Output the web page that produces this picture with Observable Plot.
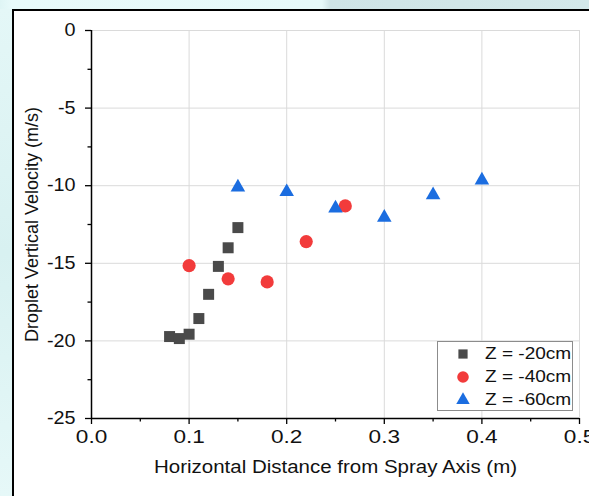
<!DOCTYPE html>
<html>
<head>
<meta charset="utf-8">
<script src="https://cdn.jsdelivr.net/npm/d3@7"></script>
<script src="https://cdn.jsdelivr.net/npm/@observablehq/plot@0.6"></script>
<style>
  html, body { margin: 0; padding: 0; }
  body {
    width: 589px; height: 496px; overflow: hidden; position: relative;
    background: linear-gradient(90deg, #dff5f5 0px, #e8fafa 12px, #e6f9f9 322px, #cfe4e6 330px, #d3e8ea 589px);
    font-family: "Liberation Sans", Arial, sans-serif;
  }
  #leftstrip { position: absolute; left: 0; top: 9px; width: 12px; height: 487px;
    background: linear-gradient(180deg, #e4f7f7, #d8f1f1 50%, #e6f8f8); }
  #panel { position: absolute; left: 12px; top: 9px; width: 620px; height: 620px;
    border: 2px solid #000; background: #fff; box-sizing: border-box; }
  #chart { position: absolute; left: 0; top: 0; }
  #legend { position: absolute; left: 437px; top: 341px; width: 136px; height: 70px;
    border: 1px solid #8c8c8c; box-sizing: border-box; background: #fff;
    font-size: 17px; color: #111; }
  .row { position: absolute; left: 0; width: 134px; height: 22px; line-height: 22px; white-space: nowrap; }
  .row svg { position: absolute; left: 16px; top: 2px; }
  .row span { position: absolute; left: 47px; top: 0; display: inline-block;
    transform: scaleX(1.12); transform-origin: 0 50%; }
</style>
</head>
<body>
<div id="leftstrip"></div>
<div id="panel"></div>
<div id="chart"></div>
<div id="legend"></div>
<script>
// ---- data ----
const seriesNames = ["Z = -20cm", "Z = -40cm", "Z = -60cm"];
const seriesColors = ["#4a4a4a", "#f23b3b", "#1b6de0"];
const seriesSymbols = ["square", "circle", "triangle"];

const x20 = [0.08, 0.09, 0.10, 0.11, 0.12, 0.13, 0.14, 0.15];
const v20 = [-19.72, -19.85, -19.57, -18.56, -17.0, -15.2, -14.0, -12.7];

const x40 = [0.10, 0.14, 0.18, 0.22, 0.26];
const v40 = [-15.15, -16.0, -16.2, -13.6, -11.3];

const x60 = [0.15, 0.20, 0.25, 0.30, 0.35, 0.40];
const v60 = [-10.1, -10.4, -11.45, -12.05, -10.6, -9.65];

const xMajor = [0, 0.1, 0.2, 0.3, 0.4, 0.5];
const xMinor = [0.05, 0.15, 0.25, 0.35, 0.45];
const yMajor = [-25, -20, -15, -10, -5, 0];
const yMinor = [-22.5, -17.5, -12.5, -7.5, -2.5];

const xTitle = "Horizontal Distance from Spray Axis (m)";
const yTitle = "Droplet Vertical Velocity (m/s)";

// ---- table ----
const rows = [];
[[x20, v20], [x40, v40], [x60, v60]].forEach(([xs, vs], i) => {
  xs.forEach((x, j) => rows.push({x, v: vs[j], s: i}));
});

const font = "'Liberation Sans', Arial, sans-serif";

const chart = Plot.plot({
  width: 589,
  height: 496,
  marginLeft: 91,
  marginRight: 10,
  marginTop: 30,
  marginBottom: 78,
  style: {background: "transparent", fontFamily: font, color: "#111", overflow: "visible"},
  x: {domain: [0, 0.5]},
  y: {domain: [-25, 0]},
  marks: [
    Plot.gridX(xMajor.slice(1), {stroke: "#dadada", strokeOpacity: 1, strokeWidth: 1}),
    Plot.gridY(yMajor.slice(1), {stroke: "#dadada", strokeOpacity: 1, strokeWidth: 1}),
    Plot.axisX(xMinor, {tickSize: 3.5, tickFormat: () => "", stroke: "#000", strokeWidth: 1.3, label: null}),
    Plot.axisY(yMinor, {tickSize: 3.5, tickFormat: () => "", stroke: "#000", strokeWidth: 1.3, label: null}),
    Plot.axisX(xMajor, {tickSize: 6, tickPadding: 6, tickFormat: d3.format(".1f"), fontSize: 17,
      stroke: "#000", strokeWidth: 1.3, label: xTitle, labelAnchor: "center", labelArrow: "none", labelOffset: 54,
      ariaLabel: "x-major"}),
    Plot.axisY(yMajor, {tickSize: 6, tickPadding: 10, tickFormat: d => d.toString(), fontSize: 17,
      stroke: "#000", strokeWidth: 1.3, label: yTitle, labelAnchor: "center", labelArrow: "none", labelOffset: 66,
      ariaLabel: "y-major"}),
    Plot.ruleX([0], {stroke: "#000", strokeWidth: 1.5}),
    Plot.ruleY([-25], {stroke: "#000", strokeWidth: 1.5}),
    Plot.dot(rows.filter(d => d.s === 0), {x: "x", y: "v", symbol: "square", r: 6.2, fill: seriesColors[0], stroke: "none"}),
    Plot.dot(rows.filter(d => d.s === 1), {x: "x", y: "v", symbol: "circle", r: 6.6, fill: seriesColors[1], stroke: "none"}),
    Plot.dot(rows.filter(d => d.s === 2), {x: "x", y: "v", symbol: "triangle", r: 5.4, fill: seriesColors[2], stroke: "none"})
  ]
});
document.getElementById("chart").appendChild(chart);

// text styling: the reference's horizontal text is slightly wider than Liberation Sans
const labelGroups = chart.querySelectorAll("g[aria-label$='label']");
labelGroups.forEach(g => {
  const isY = /y/.test(g.getAttribute("aria-label"));
  g.querySelectorAll("text").forEach(t => {
    t.setAttribute("font-size", isY ? "18" : "17.5");
    if (!isY) {
      const w = t.getComputedTextLength();
      t.setAttribute("textLength", (w * 1.17).toFixed(1));
      t.setAttribute("lengthAdjust", "spacingAndGlyphs");
    }
  });
});
chart.querySelectorAll("g[aria-label='x-major'] text, g[aria-label='y-major'] text, g[aria-label$='tick label'] text").forEach(t => {
  const txt = t.textContent;
  if (!txt) return;
  const w = t.getComputedTextLength();
  if (w > 0) {
    t.setAttribute("textLength", (w * 1.1).toFixed(1));
    t.setAttribute("lengthAdjust", "spacingAndGlyphs");
  }
});

// ---- legend ----
const symMap = {square: d3.symbolSquare, circle: d3.symbolCircle, triangle: d3.symbolTriangle};
const symR = [5.2, 5.8, 5.0];
const legend = d3.select("#legend");
seriesNames.forEach((name, i) => {
  const row = legend.append("div").attr("class", "row").style("top", (1 + i * 23) + "px");
  const svg = row.append("svg").attr("width", 18).attr("height", 18);
  svg.append("path")
    .attr("transform", "translate(9,9)")
    .attr("d", d3.symbol(symMap[seriesSymbols[i]], Math.PI * symR[i] * symR[i])())
    .attr("fill", seriesColors[i]);
  row.append("span").text(name);
});
</script>
</body>
</html>
